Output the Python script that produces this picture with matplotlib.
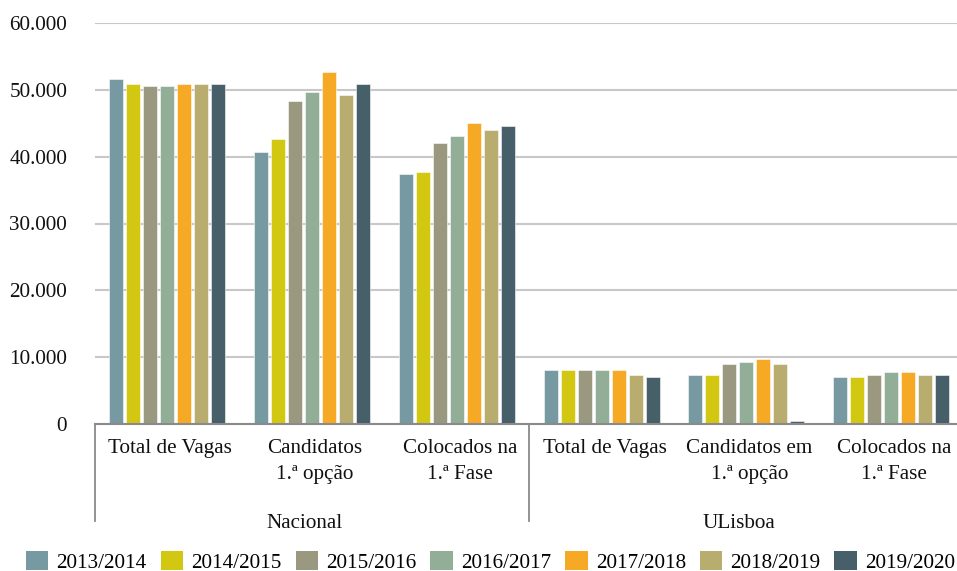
import matplotlib
matplotlib.use("Agg")
import matplotlib.pyplot as plt
import matplotlib.transforms as mtransforms
from matplotlib.patches import Patch
import numpy as np

plt.rcParams['font.family'] = ['Liberation Serif', 'DejaVu Serif']

# Data
categories = ["Total de Vagas", "Candidatos\n1.ª opção", "Colocados na\n1.ª Fase",
              "Total de Vagas", "Candidatos em\n1.ª opção", "Colocados na\n1.ª Fase"]
groups = ["Nacional", "ULisboa"]
years = ["2013/2014", "2014/2015", "2015/2016", "2016/2017",
         "2017/2018", "2018/2019", "2019/2020"]

v_2013_2014 = [51600, 40750, 37470, 8030, 7360, 7010]
v_2014_2015 = [50940, 42700, 37760, 8030, 7360, 7010]
v_2015_2016 = [50600, 48300, 42090, 8030, 9030, 7360]
v_2016_2017 = [50600, 49640, 43030, 8030, 9330, 7730]
v_2017_2018 = [50940, 52600, 45000, 8030, 9700, 7730]
v_2018_2019 = [50940, 49300, 44020, 7360, 9030, 7360]
v_2019_2020 = [50940, 50940, 44660, 7010, 450, 7360]
series = [v_2013_2014, v_2014_2015, v_2015_2016, v_2016_2017,
          v_2017_2018, v_2018_2019, v_2019_2020]

colors = ["#7799A1", "#D2C812", "#9A987E", "#93AE96",
          "#F6A925", "#B8AC6E", "#475F69"]

yticks = [0, 10000, 20000, 30000, 40000, 50000, 60000]

FS = 15.2
W, H = 957, 571
fig = plt.figure(figsize=(W / 100, H / 100), dpi=100)
left_px, right_px, top_px, base_px = 95, 963.6, 23, 424
ax = fig.add_axes([left_px / W, (H - base_px) / H,
                   (right_px - left_px) / W, (base_px - top_px) / H])

x = np.arange(len(categories))
step = 0.1174
bw = 0.0967
for i, (vals, c) in enumerate(zip(series, colors)):
    ax.bar(x + (i - 3) * step, vals, width=bw, color=c,
           edgecolor=(1, 1, 1, 0.55), linewidth=0.7, zorder=3)

ax.set_xlim(-0.5, len(categories) - 0.5)
ax.set_ylim(0, 60000)
ax.set_yticks(yticks)
ax.set_yticklabels([f"{t:,}".replace(",", ".") for t in yticks])
ax.tick_params(axis='y', length=0, pad=20, labelsize=FS, colors='#111111')
ax.set_xticks([])
ax.grid(axis='y', color='#c8c8c8', linewidth=1.5, zorder=0)
for s in ['top', 'right', 'left']:
    ax.spines[s].set_visible(False)
ax.spines['bottom'].set_color('#8a8a8a')
ax.spines['bottom'].set_linewidth(1.5)
ax.spines['bottom'].set_zorder(4)

# Hierarchical category axis
trans = mtransforms.blended_transform_factory(ax.transData, ax.transAxes)
px_to_axes = 1.0 / (base_px - top_px)
for xi, lab in zip(x, categories):
    ax.text(xi + 0.02, -15 * px_to_axes, lab, transform=trans, ha='center',
            va='top', fontsize=FS, linespacing=1.5, color='#111111')
for gi, g in enumerate(groups):
    ax.text(gi * 3 + 1 - 0.05, -99 * px_to_axes, g, transform=trans,
            ha='center', va='center', fontsize=FS, color='#111111')
for xb in [-0.5, 2.5]:
    ax.plot([xb, xb], [0, -97 * px_to_axes], transform=trans, color='#8a8a8a',
            linewidth=1.3, clip_on=False)

handles = [Patch(facecolor=c, edgecolor='none') for c in colors]
fig.legend(handles, years, loc='center', ncol=7, frameon=False,
           bbox_to_anchor=(0.5125, (H - 562) / H), fontsize=FS,
           handlelength=1.07, handleheight=0.95, handletextpad=0.38,
           columnspacing=0.66, borderaxespad=0)

fig.savefig("out.png", dpi=100)
